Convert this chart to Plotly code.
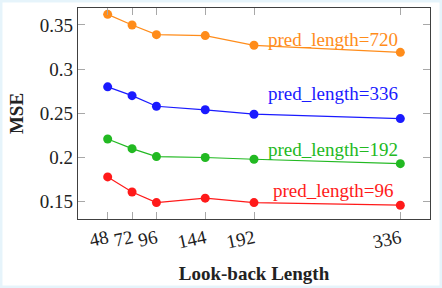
import plotly.graph_objects as go

lookback = [48, 72, 96, 144, 192, 336]
mse_720 = [0.362, 0.350, 0.339, 0.338, 0.327, 0.319]
mse_336 = [0.280, 0.270, 0.258, 0.254, 0.249, 0.244]
mse_192 = [0.221, 0.210, 0.201, 0.200, 0.198, 0.193]
mse_96 = [0.178, 0.161, 0.149, 0.154, 0.149, 0.146]

series_names = ["pred_length=720", "pred_length=336", "pred_length=192", "pred_length=96"]
series_values = [mse_720, mse_336, mse_192, mse_96]
series_colors = ["#ff8c1a", "#1a1aff", "#22b922", "#ff1a1a"]
label_y = [0.334, 0.273, 0.209, 0.163]
label_x = 270

y_tick_vals = [0.15, 0.2, 0.25, 0.3, 0.35]
y_tick_text = ["0.15", "0.2", "0.25", "0.3", "0.35"]
x_tick_text = ["48", "72", "96", "144", "192", "336"]

FONT = "Liberation Serif"

fig = go.Figure()
for name, vals, col in zip(series_names, series_values, series_colors):
    fig.add_trace(go.Scatter(
        x=lookback, y=vals, mode="lines+markers", name=name,
        line=dict(color=col, width=1.2),
        marker=dict(color=col, size=9),
        showlegend=False,
    ))

for name, ly, col in zip(series_names, label_y, series_colors):
    fig.add_annotation(x=label_x, y=ly, text=name, showarrow=False,
                       xanchor="center", yanchor="middle",
                       font=dict(family=FONT, size=19, color=col))

axis_common = dict(
    showline=True, linecolor="#404040", linewidth=1.2, mirror="allticks",
    ticks="inside", ticklen=7, tickwidth=1, tickcolor="#a8a8a8",
    showgrid=False, zeroline=False,
    tickfont=dict(family=FONT, size=19, color="#222222"),
)

fig.update_xaxes(
    range=[18.8, 365.2], tickvals=lookback, ticktext=x_tick_text, tickangle=-12,
    title=dict(text="<b>Look-back Length</b>", font=dict(family=FONT, size=19, color="#222222"), standoff=15),
    automargin=False, **axis_common,
)
fig.update_yaxes(
    range=[0.1304, 0.3692], tickvals=y_tick_vals, ticktext=y_tick_text,
    title=dict(text="<b>MSE</b>", font=dict(family=FONT, size=19, color="#222222"), standoff=11),
    automargin=False, **axis_common,
)

fig.add_shape(type="rect", xref="paper", yref="paper",
              x0=-0.2145, x1=1.027, y0=-0.315, y1=1.026,
              fillcolor="white", line=dict(width=0), layer="below")

fig.update_layout(
    width=442, height=288,
    margin=dict(l=78, r=12, t=8, b=69),
    paper_bgcolor="#e6f4fb", plot_bgcolor="white",
    font=dict(family=FONT),
)

fig.write_html("out.html", config={"displayModeBar": False},
               post_script="document.body.style.margin='0';")
